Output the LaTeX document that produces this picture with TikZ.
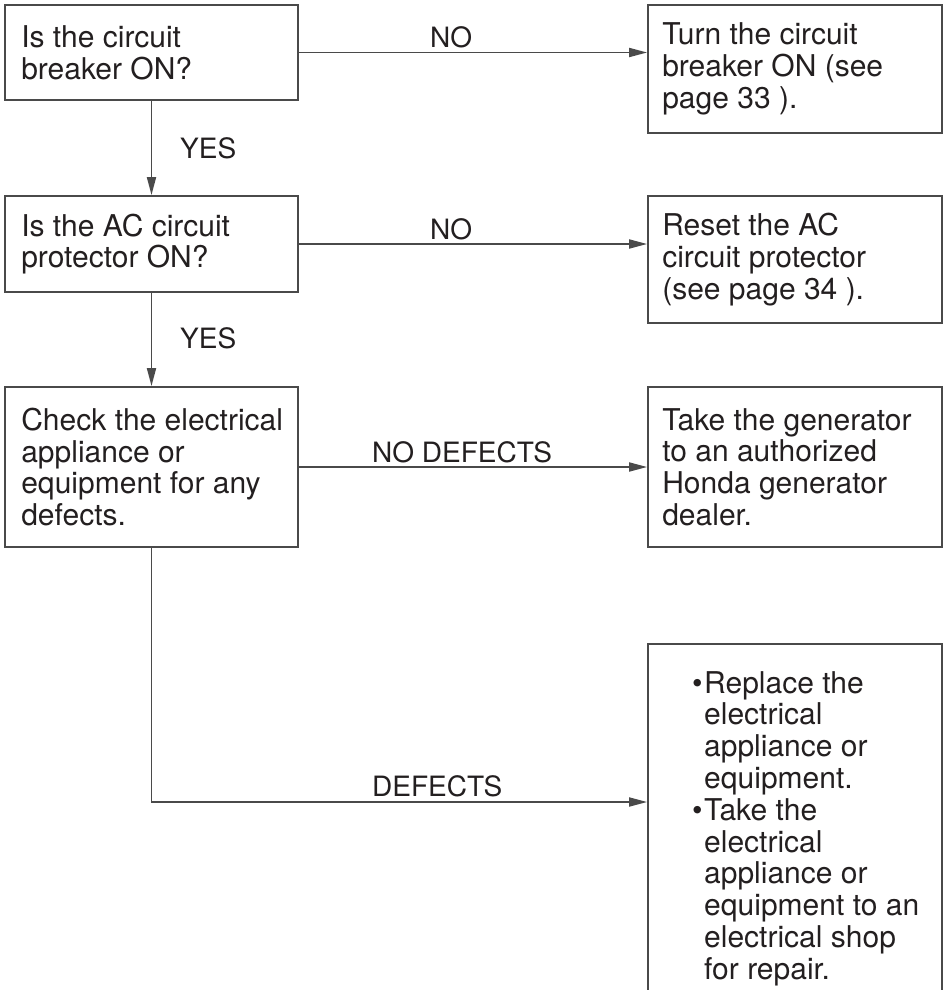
\documentclass[tikz,border=0pt]{standalone}
\usepackage{fontspec}
\setmainfont{TeX Gyre Heros}
\usetikzlibrary{arrows.meta}
\definecolor{ink}{HTML}{231F20}
\definecolor{linec}{HTML}{4A4A4A}
\begin{document}
\begin{tikzpicture}[x=1pt,y=-1pt,
  box/.style={draw=linec, line width=1.8pt, inner sep=0pt, minimum width=293pt},
  txt/.style={text=ink, align=left, inner sep=0pt, font=\fontsize{30}{31.8}\selectfont},
  lbl/.style={text=ink, inner sep=0pt, font=\fontsize{28}{30}\selectfont},
  conn/.style={draw=linec, line width=1.8pt},
  arr/.style={conn, -{Triangle[length=18pt,width=9pt]}}]
\useasboundingbox (0,0) rectangle (945,990);
% left column boxes
\node[box, minimum height=95pt]  (b1) at (151.5,52.5) {};
\node[box, minimum height=96pt]  (b2) at (151.5,244) {};
\node[box, minimum height=160pt] (b3) at (151.5,467) {};
% right column boxes
\node[box, minimum width=294pt, minimum height=128pt] (r1) at (795,69) {};
\node[box, minimum width=294pt, minimum height=127pt] (r2) at (795,259.5) {};
\node[box, minimum width=294pt, minimum height=160pt] (r3) at (795,467) {};
\node[box, minimum width=294pt, minimum height=370pt, anchor=north] (r4) at (795,643) {};
% texts
\node[txt, anchor=west] (t1) at ([xshift=17pt]b1.west) {Is the circuit\\breaker ON?};
\node[txt, anchor=west] (t2) at ([xshift=17pt]b2.west) {Is the AC circuit\\protector ON?};
\node[txt, anchor=west] (t3) at ([xshift=17pt]b3.west) {Check the electrical\\appliance or\\equipment for any\\defects.};
\node[txt, anchor=west] (tr1) at ([xshift=15pt]r1.west) {Turn the circuit\\breaker ON (see\\page 33 ).};
\node[txt, anchor=west] (tr2) at ([xshift=15pt]r2.west) {Reset the AC\\circuit protector\\(see page 34 ).};
\node[txt, anchor=west] (tr3) at ([xshift=15pt]r3.west) {Take the generator\\to an authorized\\Honda generator\\dealer.};
\node[txt, anchor=north west] (tr4) at (704,671) {\llap{•\hspace{1.5pt}}Replace the\\electrical\\appliance or\\equipment.\\\llap{•\hspace{1.5pt}}Take the\\electrical\\appliance or\\equipment to an\\electrical shop\\for repair.};
% connectors
\draw[arr] (b1.south) -- (b2.north);
\draw[arr] (b2.south) -- (b3.north);
\draw[arr] (b1.east) -- (b1.east -| r1.west);
\draw[arr] (b2.east) -- (b2.east -| r2.west);
\draw[arr] (b3.east) -- (b3.east -| r3.west);
\coordinate (dc) at (151.5,802);
\draw[arr] (b3.south) -- (dc) -- (dc -| r4.west);
% labels
\node[lbl, anchor=base west] (yes1) at (180,158) {YES};
\node[lbl, anchor=base west] (yes2) at (180,348) {YES};
\node[lbl, anchor=base west] (no1) at (430,48) {NO};
\node[lbl, anchor=base west] (no2) at (430,239) {NO};
\node[lbl, anchor=base west] (nod) at (372,462) {NO DEFECTS};
\node[lbl, anchor=base west] (def) at (372,796) {DEFECTS};
\end{tikzpicture}
\end{document}
